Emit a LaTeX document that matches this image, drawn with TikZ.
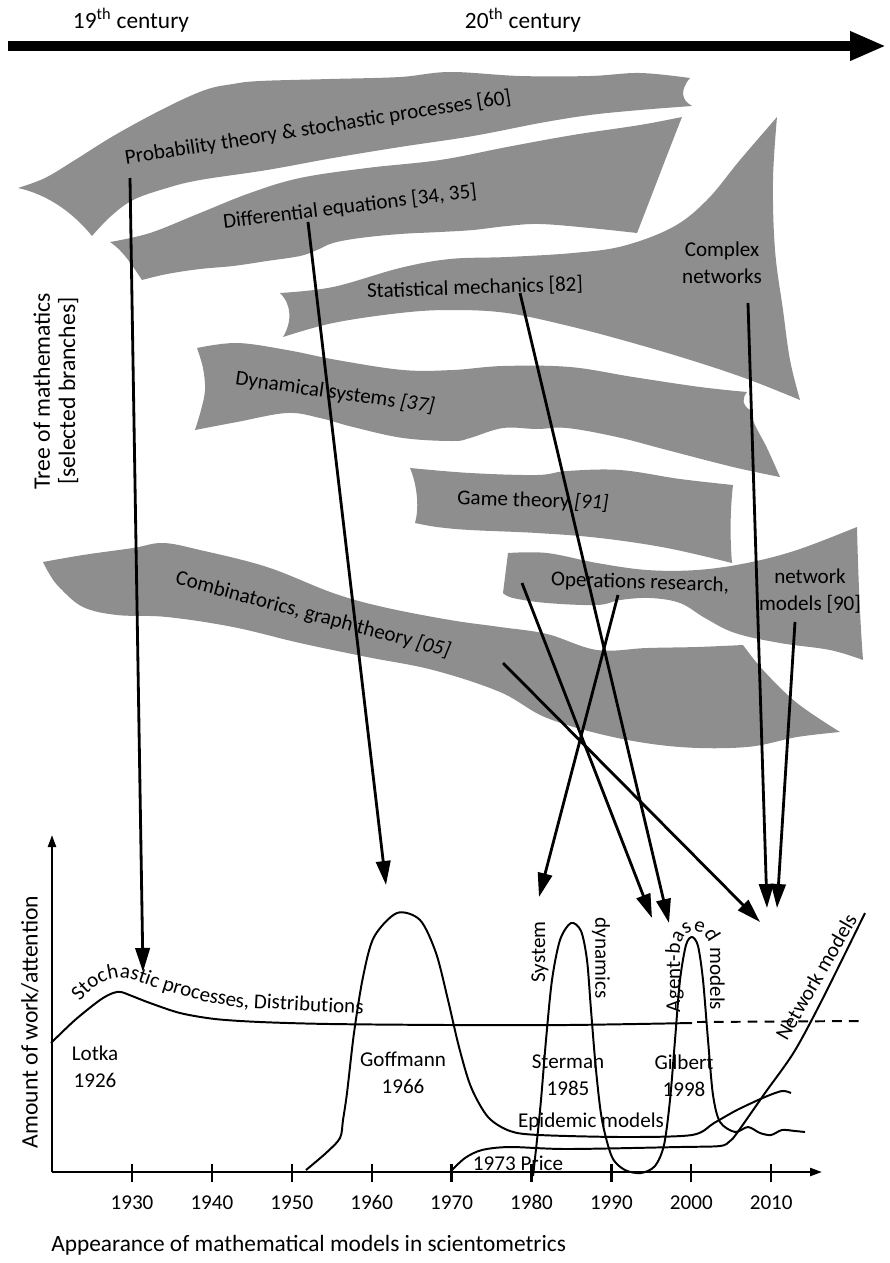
\documentclass[tikz,border=0pt]{standalone}
\usepackage{fontspec}
\setmainfont{Carlito}
\usetikzlibrary{arrows.meta,decorations.text}

\definecolor{branchgray}{RGB}{142,142,142}

\newcommand{\branchfont}{\fontsize{15}{19}\selectfont}
\newcommand{\graphfont}{\fontsize{15}{19}\selectfont}
\newcommand{\axisfont}{\fontsize{16.6}{20}\selectfont}
\newcommand{\sidefont}{\fontsize{16.8}{18}\selectfont}

\tikzset{
  branch/.style={fill=branchgray, draw=none},
  branchtxt/.style={font=\branchfont, inner sep=0pt, align=center},
  graphtxt/.style={font=\graphfont, inner sep=0pt, align=center},
  link/.style={line width=2pt, -{Triangle[length=0.6cm, width=0.36cm]}},
  curve/.style={line width=1.4pt, line join=round},
  axis/.style={line width=1.6pt},
}

\begin{document}
\begin{tikzpicture}[x=0.025cm, y=-0.025cm]
    \def\yearzero{132}
    \def\decade{79.9}
    \useasboundingbox (0,0) rectangle (889,1263);

    % time line
    \draw[line width=7.1pt, -{Triangle[length=0.9cm, width=0.68cm]}] (8,46) -- (886,46);
    \node[font=\axisfont, inner sep=0pt] (c19) at (131,20) {19\textsuperscript{th} century};
    \node[font=\axisfont, inner sep=0pt] (c20) at (523,20) {20\textsuperscript{th} century};

    % branches
    \fill[branch] plot[smooth, tension=0.6] coordinates {(18,188) (45,178) (75,160) (115,135) (165,108) (205,90) (233,84) (260,81) (330,79) (400,77) (450,72) (520,76) (590,76) (640,73) (690,78)}
        .. controls (680,90) and (681,100) .. (692,106)
        -- plot[smooth, tension=0.6] coordinates {(692,106) (640,110) (590,115) (540,123) (473,136) (400,147) (333,158) (267,170) (200,180) (167,188) (133,200) (110,217) (92,236)}
        .. controls (75,215) and (50,195) .. (18,188) -- cycle;
    \fill[branch] plot[smooth, tension=0.6] coordinates {(110,242) (150,233) (200,213) (250,193) (300,178) (367,168) (440,160) (507,147) (573,135) (640,125) (682,117)}
        .. controls (665,160) and (650,200) .. (637,233)
        -- plot[smooth, tension=0.6] coordinates {(637,233) (590,228) (540,224) (507,226) (473,230) (440,232) (400,234) (360,238) (333,243) (317,250) (300,256) (267,261) (233,266) (200,269) (167,274) (142,280)}
        .. controls (130,262) and (122,250) .. (110,242) -- cycle;
    \fill[branch] plot[smooth, tension=0.6] coordinates {(280,293) (333,287) (400,268) (450,259) (507,257) (573,253) (623,246) (673,227) (707,200) (740,160) (777,117)}
        -- plot[smooth, tension=0.6] coordinates {(777,117) (773,180) (775,250) (783,310) (790,360) (800,400)}
        -- plot[smooth, tension=0.6] coordinates {(800,400) (750,380) (700,363) (640,345) (573,327) (507,313) (450,310) (400,313) (333,323) (283,337)}
        .. controls (292,322) and (292,305) .. (280,293) -- cycle;
    \fill[branch] plot[smooth, tension=0.6] coordinates {(197,348) (237,343) (287,350) (337,360) (403,370) (453,370) (503,366) (570,367) (633,377) (700,387) (747,392)}
        .. controls (742,398) and (742,405) .. (750,410)
        -- plot[smooth, tension=0.6] coordinates {(750,410) (755,425) (767,448) (780,477)}
        -- plot[smooth, tension=0.6] coordinates {(780,477) (733,467) (667,450) (617,437) (567,428) (537,429) (503,428) (470,438) (453,441) (403,438) (353,427) (320,418) (287,413) (237,422) (195,430)}
        -- plot[smooth, tension=0.6] coordinates {(195,430) (201,410) (205,390) (203,368) (197,348)} -- cycle;
    \fill[branch] plot[smooth, tension=0.6] coordinates {(410,468) (470,473) (537,475) (567,471) (620,470) (680,479) (733,485)}
        .. controls (730,510) and (730,540) .. (732,563)
        -- plot[smooth, tension=0.6] coordinates {(732,563) (667,548) (600,538) (537,533) (470,530) (437,527) (415,523)}
        .. controls (420,505) and (416,482) .. (410,468) -- cycle;
    \fill[branch] plot[smooth, tension=0.6] coordinates {(508,553) (547,553) (597,563) (647,570) (697,570) (747,563) (797,550) (857,527)}
        .. controls (858,570) and (860,620) .. (863,660)
        -- plot[smooth, tension=0.6] coordinates {(863,660) (830,650) (780,643) (735,633) (705,618) (680,603) (650,598) (620,600) (597,605) (547,603) (513,598) (503,593)} -- cycle;
    \fill[branch] plot[smooth, tension=0.6] coordinates {(43,562) (83,555) (133,548) (163,543) (200,550) (267,567) (333,593) (383,607) (450,620) (500,627) (547,634) (597,650) (647,648) (697,647) (743,645)}
        -- plot[smooth, tension=0.6] coordinates {(743,645) (763,670) (797,703) (840,732)}
        -- plot[smooth, tension=0.6] coordinates {(840,732) (797,737) (747,747) (680,747) (613,737) (547,718) (500,692) (433,670) (367,657) (300,643) (233,627) (167,617) (117,615) (83,607) (60,588) (50,575) (43,562)} -- cycle;

    % branch labels
    \node[branchtxt, rotate=9] (prob) at (318,128) {Probability theory \& stochastic processes [60]};
    \node[branchtxt, rotate=7] (diff) at (350,207) {Differential equations [34, 35]};
    \node[branchtxt, rotate=2] (stat) at (475,288) {Statistical mechanics [82]};
    \node[branchtxt] (cplx) at (722,263) {Complex\\networks};
    \node[branchtxt, rotate=-8] (dyn) at (335,393) {Dynamical systems \textit{[37]}};
    \node[branchtxt, rotate=-2] (game) at (533,501) {Game theory \textit{[91]}};
    \node[branchtxt, rotate=-2] (oper) at (640,583) {Operations research,};
    \node[branchtxt] (netm) at (810,591) {network\\models [90]};
    \node[branchtxt, rotate=-15] (comb) at (313,615) {Combinatorics, graph theory \textit{[05]}};
    \node[rotate=90, font=\sidefont, align=center, inner sep=0pt] (tree) at (56,391) {Tree of mathematics\\{[selected branches]}};

    % graph axes
    \coordinate (origin) at (52,1172);
    \draw[axis, -{Triangle[length=0.3cm, width=0.2cm]}] (origin) -- (52,835);
    \draw[axis, -{Triangle[length=0.3cm, width=0.2cm]}] (origin) -- (822,1172);
    \foreach \yr [count=\i from 0] in {1930,1940,...,2010} {
        \draw[axis] ({\yearzero+\i*\decade},1164) -- ({\yearzero+\i*\decade},1182);
        \node[graphtxt, anchor=base] (year\yr) at ({\yearzero+\i*\decade},1209) {\yr};
    }
    \node[rotate=90, font=\sidefont, inner sep=0pt] (amount) at (30,1022) {Amount of work/attention};
    \node[font=\axisfont, anchor=west, inner sep=0pt] (appear) at (51,1245) {Appearance of mathematical models in scientometrics};

    % curves
    \draw[curve] plot[smooth] coordinates {(51,1043) (75,1020) (100,1000) (113,993) (121,992) (132,996) (150,1003) (180,1013) (215,1019) (260,1022) (330,1024) (450,1025) (567,1025) (692,1023)};
    \draw[curve, dash pattern=on 7pt off 5pt] (697,1022) -- (860,1021);
    \draw[curve] plot[smooth] coordinates {(306,1170) (326,1153) (340,1138) (343,1120) (347,1093) (354,1033) (363,977) (374,937) (397,913) (420,920) (436,953) (448,1000) (459,1047) (471,1087) (488,1117) (510,1131) (539,1135) (624,1137) (692,1135) (714,1123) (737,1110) (765,1097) (782,1091) (791,1093)};
    \draw[curve] plot[smooth] coordinates {(533,1176) (537,1140) (541,1100) (546,1040) (552,980) (560,940) (571,923) (581,931) (587,960) (591,1010) (596,1070) (602,1120) (612,1157) (625,1170) (641,1173) (655,1166) (664,1145) (670,1100) (675,1040) (680,980) (686,945) (692,937) (698,946) (703,980) (708,1040) (713,1095) (720,1122) (735,1132) (748,1127) (760,1133) (771,1135) (782,1130) (795,1131) (805,1132)};
    \draw[curve] plot[smooth] coordinates {(450,1172) (465,1158) (482,1150) (510,1147) (567,1149) (680,1147) (720,1146) (730,1141) (737,1133) (765,1093) (794,1052) (822,1000) (865,913)};

    % graph labels
    \path[decorate, decoration={text along path, text align=left, text={|\graphfont|Stochastic processes, Distributions}}]
        (80,1002) .. controls (95,984) and (110,975) .. (126,978) .. controls (145,982) and (175,998) .. (235,1007) -- (400,1016);
    \path[decorate, decoration={text along path, text align=left, text={|\graphfont|Agent-based models}}]
        (680,1012) -- (680,952) .. controls (680,924) and (710,924) .. (710,952) -- (710,1035);
    \node[graphtxt] (lotka) at (95,1067) {Lotka\\1926};
    \node[graphtxt] (goff) at (403,1073) {Goffmann\\1966};
    \node[graphtxt] (sterm) at (568,1075) {Sterman\\1985};
    \node[graphtxt] (gilb) at (684,1076) {Gilbert\\1998};
    \node[graphtxt] (epid) at (591,1122) {Epidemic models};
    \node[graphtxt] (price) at (518,1163) {1973 Price};
    \node[graphtxt, rotate=90] (sysd) at (540,952) {System};
    \node[graphtxt, rotate=-90] (dyna) at (601,958) {dynamics};
    \node[graphtxt, rotate=60] (netw) at (816,977) {Network models};

    % links from branches to models
    \coordinate (prob-s) at (130,178);   \coordinate (prob-t) at (143,972);
    \coordinate (diff-s) at (308,222);   \coordinate (diff-t) at (386,885);
    \coordinate (stat-s) at (520,293);   \coordinate (stat-t) at (669,923);
    \coordinate (oper-s) at (522,583);   \coordinate (oper-t) at (652,918);
    \coordinate (opsd-s) at (618,595);   \coordinate (opsd-t) at (539,897);
    \coordinate (comb-s) at (503,663);   \coordinate (comb-t) at (760,922);
    \coordinate (cplx-s) at (748,303);   \coordinate (cplx-t) at (767,908);
    \coordinate (netm-s) at (795,622);   \coordinate (netm-t) at (777,908);
    \draw[link] (prob-s) -- (prob-t);
    \draw[link] (diff-s) -- (diff-t);
    \draw[link] (stat-s) -- (stat-t);
    \draw[link] (oper-s) -- (oper-t);
    \draw[link] (opsd-s) -- (opsd-t);
    \draw[link] (comb-s) -- (comb-t);
    \draw[link] (cplx-s) -- (cplx-t);
    \draw[link] (netm-s) -- (netm-t);
\end{tikzpicture}
\end{document}
